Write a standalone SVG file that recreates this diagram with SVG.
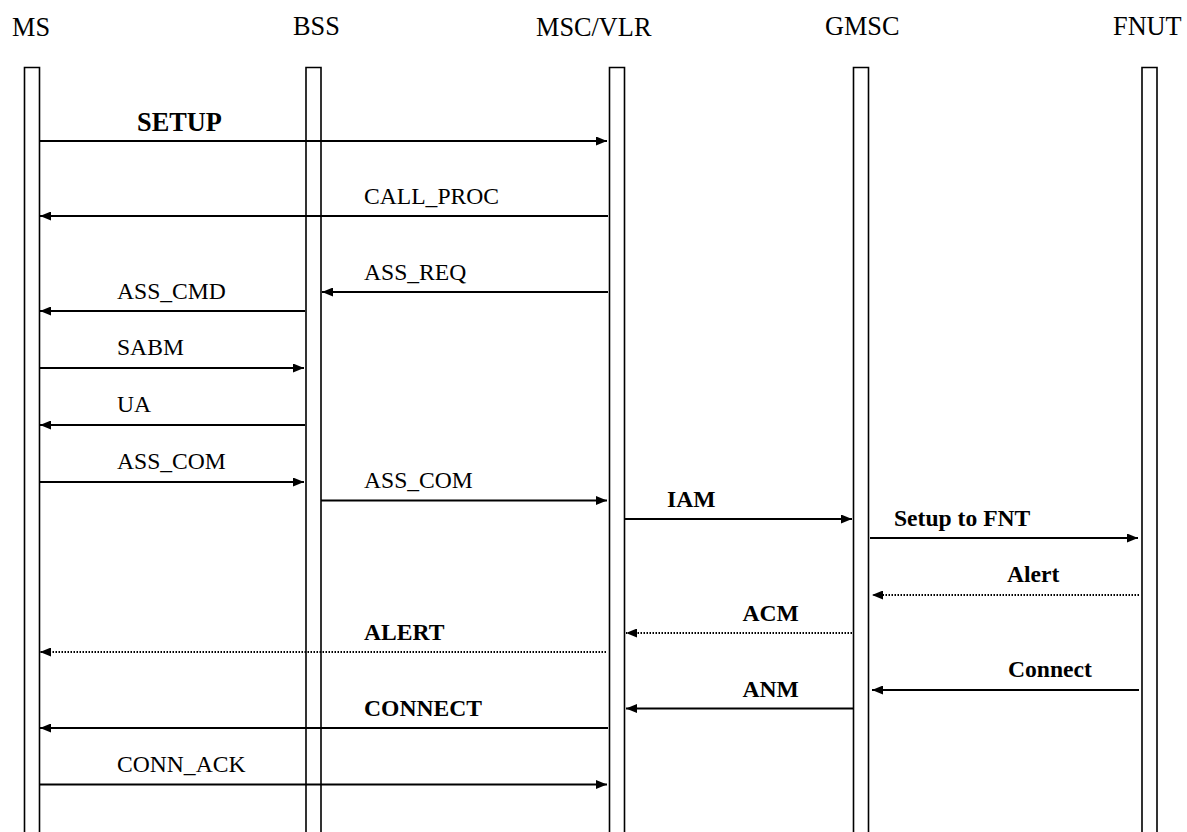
<svg xmlns="http://www.w3.org/2000/svg" width="1187" height="832" viewBox="0 0 1187 832">
<style>
.hdr{font-family:"Liberation Serif","Times New Roman",serif;font-size:26.3px;fill:#000}
.lbl{font-family:"Liberation Serif","Times New Roman",serif;font-size:23.6px;fill:#000}
.b{font-weight:bold}
.life{fill:none;stroke:#000;stroke-width:1.6}
.msg{stroke:#000;stroke-width:2;fill:none;marker-end:url(#ah)}
.dot{stroke-dasharray:1.5 1.5}
</style>
<defs>
<marker id="ah" markerUnits="userSpaceOnUse" markerWidth="11" markerHeight="9" refX="11" refY="4.5" orient="auto">
<path d="M0,0 L11,4.5 L0,9 z" fill="#000"/>
</marker>
</defs>
<rect width="1187" height="832" fill="#fff"/>
<g id="MS"><text class="hdr" x="12" y="36">MS</text><path class="life" d="M24.5,840 V67.5 H39.5 V840"/></g>
<g id="BSS"><text class="hdr" x="293" y="34.5">BSS</text><path class="life" d="M306,840 V67.5 H321 V840"/></g>
<g id="MSCVLR"><text class="hdr" x="536" y="36">MSC/VLR</text><path class="life" d="M609.5,840 V67.5 H624.5 V840"/></g>
<g id="GMSC"><text class="hdr" x="825" y="35">GMSC</text><path class="life" d="M853.5,840 V67.5 H868.5 V840"/></g>
<g id="FNUT"><text class="hdr" x="1113" y="35">FNUT</text><path class="life" d="M1142,840 V67.5 H1157 V840"/></g>
<g id="connectors">
<line class="msg" x1="40" y1="141" x2="607" y2="141"/>
<text class="lbl b" style="font-size:26.3px" x="137" y="131">SETUP</text>
<line class="msg" x1="608" y1="216" x2="40" y2="216"/>
<text class="lbl" x="364" y="204">CALL_PROC</text>
<line class="msg" x1="608" y1="292" x2="322" y2="292"/>
<text class="lbl" x="364" y="280">ASS_REQ</text>
<line class="msg" x1="305" y1="311" x2="40" y2="311"/>
<text class="lbl" x="117" y="298.5">ASS_CMD</text>
<line class="msg" x1="40" y1="368" x2="304" y2="368"/>
<text class="lbl" x="117" y="355">SABM</text>
<line class="msg" x1="305" y1="425" x2="40" y2="425"/>
<text class="lbl" x="117" y="412">UA</text>
<line class="msg" x1="40" y1="482" x2="304" y2="482"/>
<text class="lbl" x="117" y="468.5">ASS_COM</text>
<line class="msg" x1="321" y1="500.5" x2="607" y2="500.5"/>
<text class="lbl" x="364" y="487.5">ASS_COM</text>
<line class="msg" x1="625" y1="519" x2="852" y2="519"/>
<text class="lbl b" x="667" y="507">IAM</text>
<line class="msg" x1="870" y1="538" x2="1138" y2="538"/>
<text class="lbl b" x="894" y="526">Setup to FNT</text>
<line class="msg dot" x1="1139" y1="595" x2="872" y2="595"/>
<text class="lbl b" x="1007" y="582">Alert</text>
<line class="msg dot" x1="852" y1="633" x2="626" y2="633"/>
<text class="lbl b" x="742.5" y="621">ACM</text>
<line class="msg dot" x1="606" y1="652" x2="40" y2="652"/>
<text class="lbl b" x="364" y="640">ALERT</text>
<line class="msg" x1="1139" y1="690" x2="872" y2="690"/>
<text class="lbl b" x="1008" y="677">Connect</text>
<line class="msg" x1="853" y1="708.5" x2="626" y2="708.5"/>
<text class="lbl b" x="742.5" y="697">ANM</text>
<line class="msg" x1="608" y1="728" x2="40" y2="728"/>
<text class="lbl b" x="364" y="715.5">CONNECT</text>
<line class="msg" x1="39" y1="784.5" x2="607" y2="784.5"/>
<text class="lbl" x="117" y="772">CONN_ACK</text>
</g>
</svg>
